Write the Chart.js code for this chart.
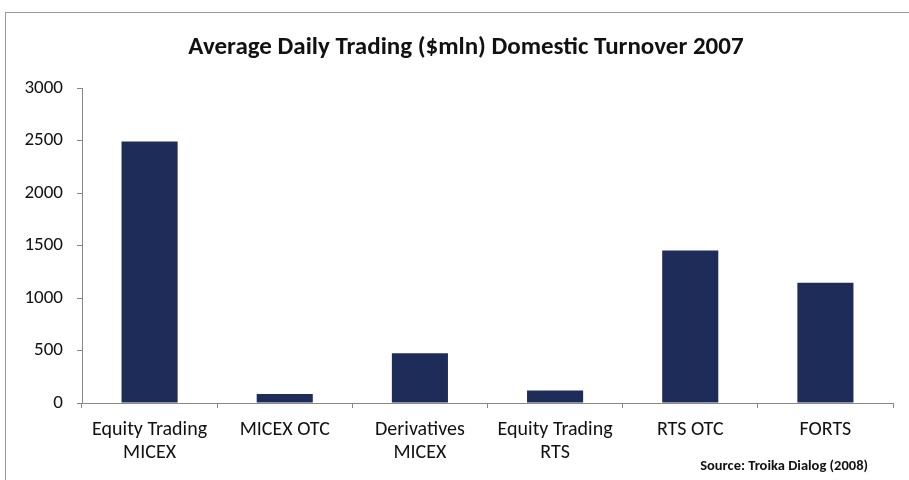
<!DOCTYPE html>
<html>
<head>
<meta charset="utf-8">
<script src="https://cdn.jsdelivr.net/npm/chart.js@4"></script>
<style>
  html, body { margin: 0; padding: 0; background: #fff; }
  .wrap { position: relative; width: 909px; height: 480px; overflow: hidden; }
  .frame { position: absolute; left: 5px; top: 12px; width: 920px; height: 480px;
           border-left: 1px solid #9a9a9a; border-top: 1px solid #9a9a9a; }
  .title { position: absolute; left: 0; top: 30px; width: 932px; text-align: center; line-height: 30px;
           font: bold 25px Carlito, 'Liberation Sans Narrow', 'Open Sans', sans-serif; color: #111; }
  .source { position: absolute; right: 41px; top: 456px; font: bold 14.5px Carlito, 'Liberation Sans Narrow', 'Open Sans', sans-serif; color: #111; }
  canvas { position: absolute; left: 0; top: 0; }
</style>
</head>
<body>
<div class="wrap">
  <div class="frame"></div>
  <canvas id="chart" width="909" height="480"></canvas>
  <div class="title">Average Daily Trading ($mln) Domestic Turnover 2007</div>
  <div class="source">Source: Troika Dialog (2008)</div>
</div>
<script>
const categories = [
  ['Equity Trading', 'MICEX'],
  'MICEX OTC',
  ['Derivatives', 'MICEX'],
  ['Equity Trading', 'RTS'],
  'RTS OTC',
  'FORTS'
];
const turnover = [2490, 85, 475, 120, 1452, 1146];
const yTicks = [0, 500, 1000, 1500, 2000, 2500, 3000];

const fontFamily = "Carlito, 'Liberation Sans Narrow', 'Open Sans', sans-serif";
Chart.defaults.font.family = fontFamily;
Chart.defaults.color = '#111';

new Chart(document.getElementById('chart'), {
  type: 'bar',
  data: {
    labels: categories,
    datasets: [{
      data: turnover,
      backgroundColor: '#1e2c5a',
      borderWidth: 0,
      categoryPercentage: 1,
      barPercentage: 0.415
    }]
  },
  options: {
    responsive: false,
    animation: false,
    layout: { padding: { left: 0, right: 16, top: 88, bottom: 0 } },
    plugins: {
      legend: { display: false },
      tooltip: { enabled: false },
      title: { display: false }
    },
    scales: {
      y: {
        min: 0,
        max: 3000,
        afterBuildTicks: (scale) => { scale.ticks = yTicks.map(v => ({ value: v })); },
        afterFit: (scale) => { scale.width = 82; },
        border: { display: true, color: '#888', width: 1 },
        grid: { drawOnChartArea: false, drawTicks: true, tickLength: 5, color: '#888' },
        ticks: { font: { size: 19 }, padding: 14, color: '#111', callback: (v) => String(v) }
      },
      x: {
        afterFit: (scale) => { scale.height = 77; },
        border: { display: true, color: '#888', width: 1 },
        grid: { drawOnChartArea: false, drawTicks: true, tickLength: 5, color: '#888' },
        ticks: { font: { size: 20, lineHeight: 1.15 }, padding: 10, color: '#111', maxRotation: 0, autoSkip: false }
      }
    }
  }
});
</script>
</body>
</html>
